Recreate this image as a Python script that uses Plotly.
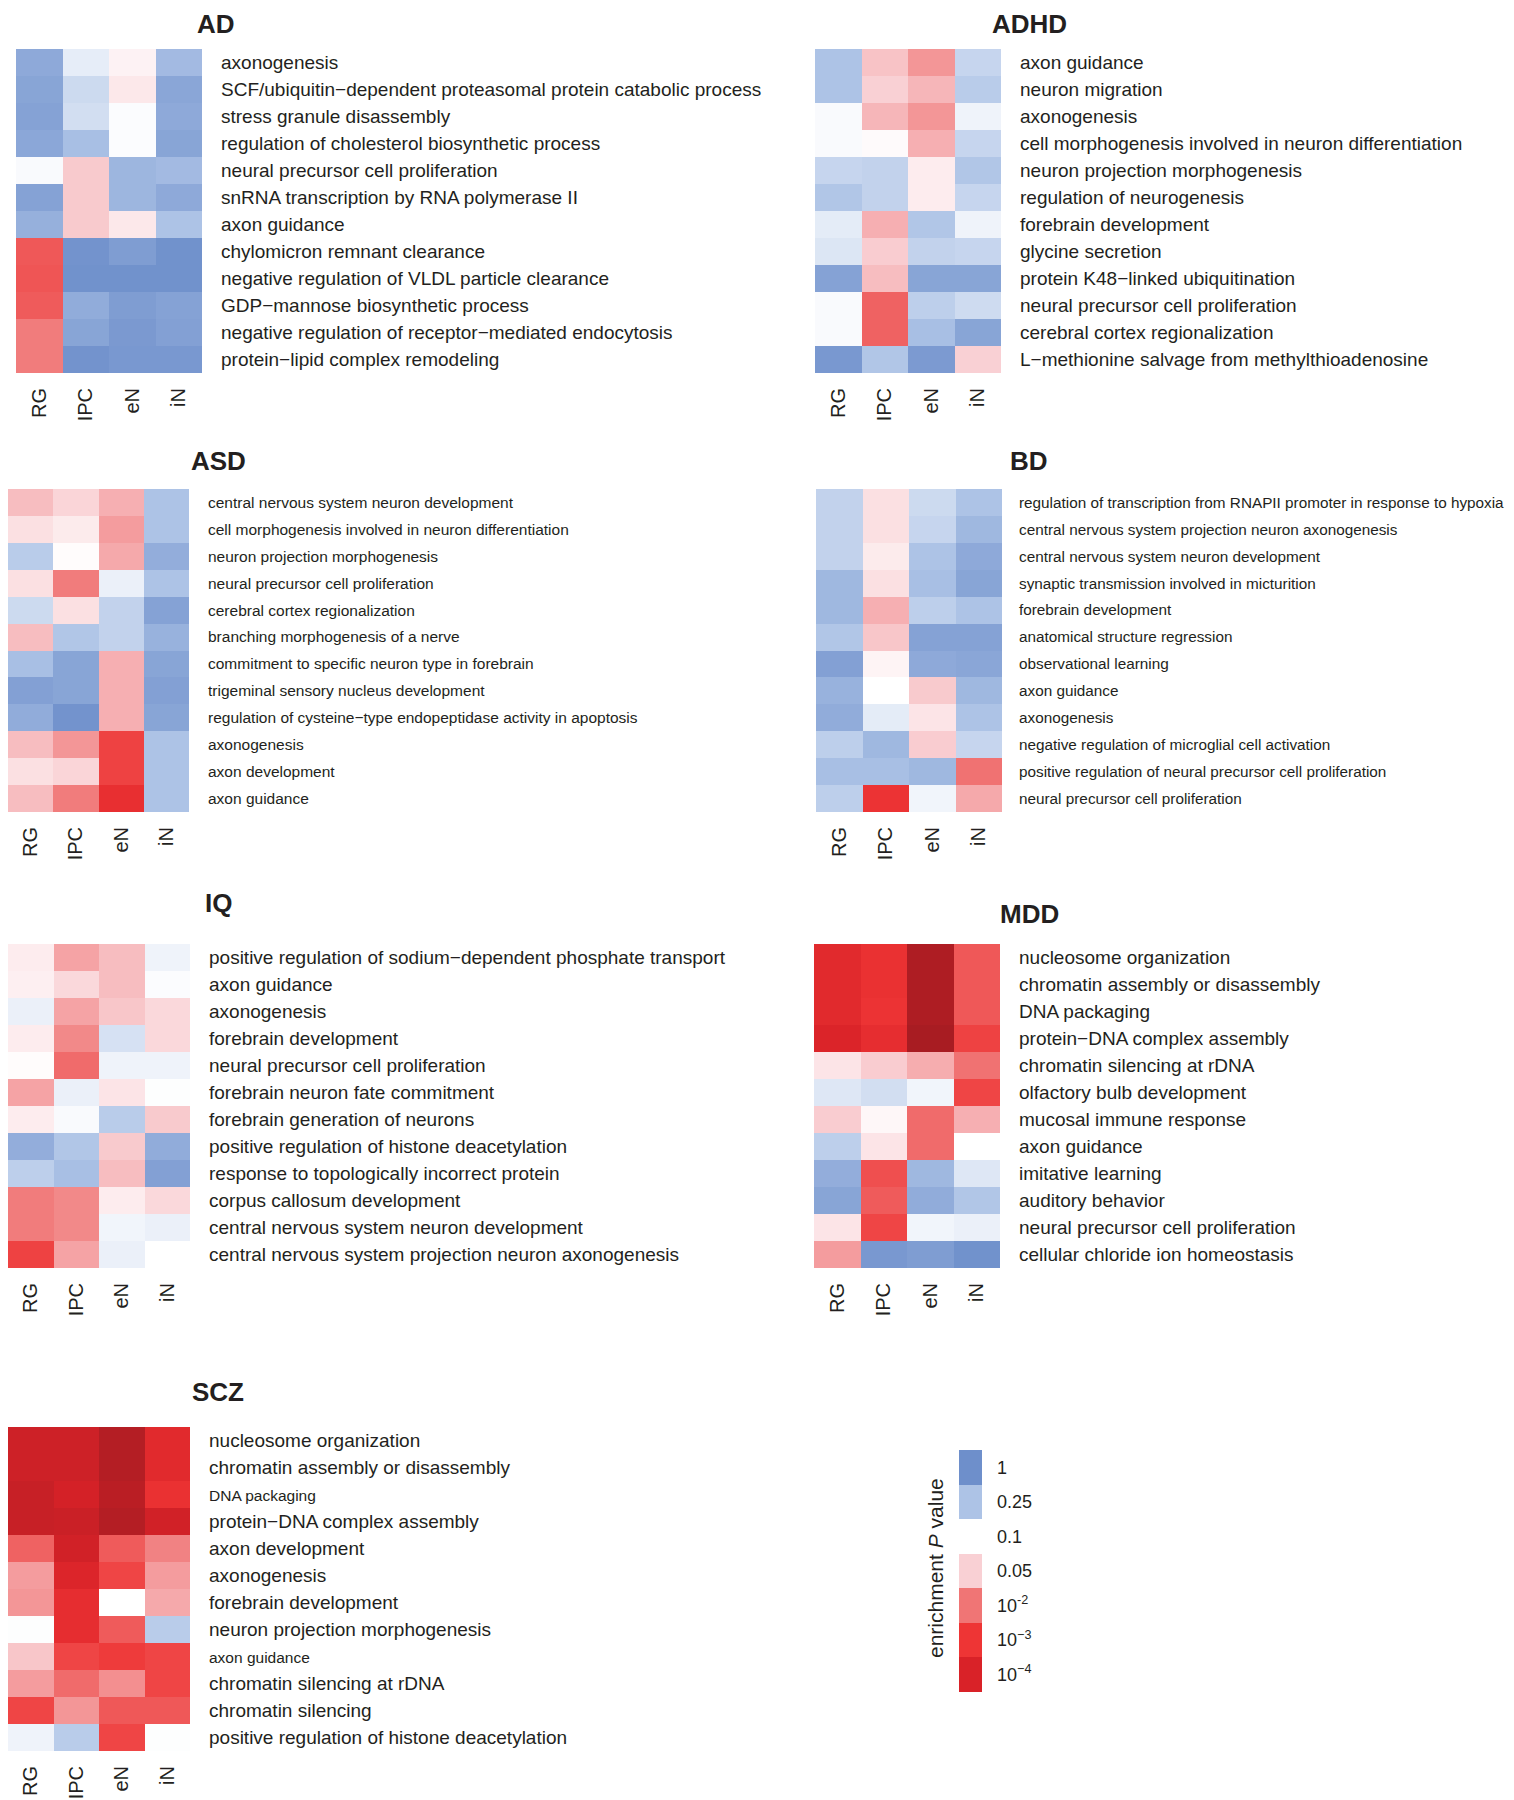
import plotly.graph_objects as go

W, H = 1514, 1800
OFF = 8  # page body margin of the browser
cell_types = ["RG", "IPC", "eN", "iN"]

# values are -log10(enrichment P value); rows top to bottom, columns RG, IPC, eN, iN
ad_terms = ["axonogenesis", "SCF/ubiquitin−dependent proteasomal protein catabolic process",
            "stress granule disassembly", "regulation of cholesterol biosynthetic process",
            "neural precursor cell proliferation", "snRNA transcription by RNA polymerase II",
            "axon guidance", "chylomicron remnant clearance",
            "negative regulation of VLDL particle clearance", "GDP−mannose biosynthetic process",
            "negative regulation of receptor−mediated endocytosis", "protein−lipid complex remodeling"]
ad_vals = [[0.30, 0.88, 1.08, 0.50], [0.25, 0.75, 1.15, 0.27], [0.22, 0.78, 0.98, 0.30],
           [0.28, 0.55, 0.98, 0.25], [0.97, 1.35, 0.45, 0.50], [0.22, 1.35, 0.45, 0.30],
           [0.38, 1.35, 1.15, 0.60], [2.45, 0.05, 0.16, 0.03], [2.50, 0.03, 0.03, 0.03],
           [2.40, 0.33, 0.16, 0.22], [1.95, 0.25, 0.12, 0.20], [1.95, 0.05, 0.10, 0.10]]

adhd_terms = ["axon guidance", "neuron migration", "axonogenesis",
              "cell morphogenesis involved in neuron differentiation", "neuron projection morphogenesis",
              "regulation of neurogenesis", "forebrain development", "glycine secretion",
              "protein K48−linked ubiquitination", "neural precursor cell proliferation",
              "cerebral cortex regionalization", "L−methionine salvage from methylthioadenosine"]
adhd_vals = [[0.60, 1.40, 1.75, 0.72], [0.60, 1.30, 1.50, 0.66], [0.97, 1.50, 1.75, 0.92],
             [0.97, 1.03, 1.55, 0.72], [0.72, 0.70, 1.12, 0.62], [0.62, 0.70, 1.12, 0.72],
             [0.87, 1.55, 0.62, 0.92], [0.83, 1.33, 0.70, 0.72], [0.22, 1.45, 0.25, 0.25],
             [0.97, 2.30, 0.68, 0.76], [0.97, 2.30, 0.55, 0.25], [0.10, 0.62, 0.13, 1.30]]

asd_terms = ["central nervous system neuron development", "cell morphogenesis involved in neuron differentiation",
             "neuron projection morphogenesis", "neural precursor cell proliferation",
             "cerebral cortex regionalization", "branching morphogenesis of a nerve",
             "commitment to specific neuron type in forebrain", "trigeminal sensory nucleus development",
             "regulation of cysteine−type endopeptidase activity in apoptosis", "axonogenesis",
             "axon development", "axon guidance"]
asd_vals = [[1.45, 1.27, 1.55, 0.60], [1.20, 1.13, 1.70, 0.60], [0.66, 1.02, 1.60, 0.35],
            [1.20, 1.95, 0.90, 0.60], [0.75, 1.20, 0.70, 0.22], [1.45, 0.62, 0.70, 0.40],
            [0.55, 0.25, 1.55, 0.25], [0.20, 0.25, 1.55, 0.20], [0.33, 0.05, 1.55, 0.25],
            [1.45, 1.75, 2.80, 0.60], [1.20, 1.27, 2.80, 0.60], [1.45, 1.95, 3.30, 0.60]]

bd_terms = ["regulation of transcription from RNAPII promoter in response to hypoxia",
            "central nervous system projection neuron axonogenesis", "central nervous system neuron development",
            "synaptic transmission involved in micturition", "forebrain development",
            "anatomical structure regression", "observational learning", "axon guidance", "axonogenesis",
            "negative regulation of microglial cell activation",
            "positive regulation of neural precursor cell proliferation", "neural precursor cell proliferation"]
bd_vals = [[0.70, 1.20, 0.75, 0.60], [0.70, 1.20, 0.72, 0.47], [0.70, 1.13, 0.60, 0.30],
           [0.47, 1.20, 0.55, 0.25], [0.47, 1.55, 0.68, 0.60], [0.62, 1.38, 0.22, 0.22],
           [0.20, 1.07, 0.30, 0.27], [0.40, 1.00, 1.35, 0.47], [0.33, 0.87, 1.17, 0.60],
           [0.68, 0.47, 1.33, 0.72], [0.55, 0.55, 0.47, 2.05], [0.68, 3.10, 0.93, 1.60]]

iq_terms = ["positive regulation of sodium−dependent phosphate transport", "axon guidance", "axonogenesis",
            "forebrain development", "neural precursor cell proliferation", "forebrain neuron fate commitment",
            "forebrain generation of neurons", "positive regulation of histone deacetylation",
            "response to topologically incorrect protein", "corpus callosum development",
            "central nervous system neuron development", "central nervous system projection neuron axonogenesis"]
iq_vals = [[1.12, 1.65, 1.45, 0.92], [1.10, 1.25, 1.45, 0.98], [0.90, 1.65, 1.38, 1.25],
           [1.12, 1.85, 0.80, 1.25], [1.02, 2.15, 0.92, 0.92], [1.65, 0.90, 1.17, 0.99],
           [1.12, 0.97, 0.66, 1.35], [0.35, 0.62, 1.35, 0.33], [0.68, 0.55, 1.45, 0.20],
           [1.95, 1.85, 1.12, 1.25], [1.95, 1.85, 0.93, 0.90], [2.80, 1.65, 0.90, 1.00]]

mdd_terms = ["nucleosome organization", "chromatin assembly or disassembly", "DNA packaging",
             "protein−DNA complex assembly", "chromatin silencing at rDNA", "olfactory bulb development",
             "mucosal immune response", "axon guidance", "imitative learning", "auditory behavior",
             "neural precursor cell proliferation", "cellular chloride ion homeostasis"]
mdd_vals = [[3.60, 3.20, 5.40, 2.45], [3.60, 3.20, 5.40, 2.45], [3.60, 3.10, 5.40, 2.45],
            [3.90, 3.40, 5.60, 2.80], [1.17, 1.33, 1.57, 2.05], [0.84, 0.78, 0.93, 2.75],
            [1.33, 1.05, 2.15, 1.55], [0.68, 1.17, 2.15, 1.00], [0.35, 2.60, 0.47, 0.84],
            [0.25, 2.40, 0.33, 0.62], [1.17, 2.75, 0.93, 0.90], [1.70, 0.10, 0.16, 0.03]]

scz_terms = ["nucleosome organization", "chromatin assembly or disassembly", "DNA packaging",
             "protein−DNA complex assembly", "axon development", "axonogenesis", "forebrain development",
             "neuron projection morphogenesis", "axon guidance", "chromatin silencing at rDNA",
             "chromatin silencing", "positive regulation of histone deacetylation"]
scz_vals = [[4.40, 4.40, 5.20, 3.60], [4.40, 4.40, 5.20, 3.60], [4.60, 4.15, 5.00, 3.20],
            [4.60, 4.50, 5.20, 4.25], [2.30, 4.25, 2.40, 1.90], [1.70, 3.85, 2.75, 1.70],
            [1.75, 3.40, 1.00, 1.60], [0.99, 3.40, 2.40, 0.66], [1.38, 2.75, 2.90, 2.75],
            [1.70, 2.15, 1.80, 2.75], [2.75, 1.75, 2.45, 2.45], [0.92, 0.66, 2.75, 0.99]]
scz_small_terms = ["DNA packaging", "axon guidance"]

legend_labels = ["1", "0.25", "0.1", "0.05", "10<sup>-2</sup>", "10<sup>−3</sup>", "10<sup>−4</sup>"]
legend_vals = [0.0, 0.6, 1.0, 1.3, 2.0, 3.0, 4.0]

# colour scale on -log10(P)
ZMAX = 6.0
stops = [(0.0, "#6e8fcb"), (0.6, "#adc3e6"), (1.0, "#ffffff"), (1.3, "#f9d0d4"),
         (2.0, "#f07575"), (3.0, "#ee3535"), (4.0, "#d92228"), (5.6, "#a81c22"), (6.0, "#a01a20")]
cscale = [[v / ZMAX, c] for v, c in stops]

TXT = "#231f20"
REG = "Liberation Sans, Arial, sans-serif"


def small(t):
    return f'<span style="font-size:15.5px">{t}</span>'


def fx(px):
    return min(1.0, max(0.0, (px - OFF) / W))


def fy(px):
    return min(1.0, max(0.0, 1 - (px - OFF) / H))


panels = [
    dict(name="AD", terms=ad_terms, vals=ad_vals, box=(16, 202, 49, 373), title=(216, 14), fsize=19, gap=18),
    dict(name="ADHD", terms=adhd_terms, vals=adhd_vals, box=(815, 1001, 49, 373), title=(1029, 14), fsize=19, gap=18),
    dict(name="ASD", terms=asd_terms, vals=asd_vals, box=(8, 189, 489, 812), title=(218, 461), fsize=15.5, gap=18),
    dict(name="BD", terms=bd_terms, vals=bd_vals, box=(816, 1002, 489, 812), title=(1029, 461), fsize=15.3, gap=16),
    dict(name="IQ", terms=iq_terms, vals=iq_vals, box=(8, 190, 944, 1268), title=(218, 903), fsize=19, gap=18),
    dict(name="MDD", terms=mdd_terms, vals=mdd_vals, box=(814, 1000, 944, 1268), title=(1029, 914), fsize=19, gap=18),
    dict(name="SCZ", terms=scz_terms, vals=scz_vals, box=(8, 190, 1427, 1751), title=(218, 1392), fsize=19, gap=18),
]

fig = go.Figure()
layout = {}
annotations = []

for i, p in enumerate(panels, start=1):
    sfx = "" if i == 1 else str(i)
    x0, x1, y0, y1 = p["box"]
    ticktext = [small(t) if (p["name"] == "SCZ" and t in scz_small_terms) else t for t in p["terms"]]
    fig.add_trace(go.Heatmap(
        z=p["vals"], x=list(range(len(cell_types))), y=list(range(len(p["terms"]))),
        colorscale=cscale, zmin=0, zmax=ZMAX, showscale=False,
        xaxis="x" + sfx, yaxis="y" + sfx, hoverinfo="skip"))
    layout["xaxis" + sfx] = dict(
        domain=[fx(x0), fx(x1)], anchor="y" + sfx, range=[-0.5, len(cell_types) - 0.5],
        tickmode="array", tickvals=list(range(len(cell_types))), ticktext=cell_types,
        tickangle=-90, showgrid=False, zeroline=False, showline=False, ticks="", automargin=False,
        ticklabelstandoff=10, tickfont=dict(family=REG, size=20, color=TXT), fixedrange=True)
    layout["yaxis" + sfx] = dict(
        domain=[fy(y1), fy(y0)], anchor="x" + sfx, range=[len(p["terms"]) - 0.5, -0.5],
        side="right", tickmode="array", tickvals=list(range(len(p["terms"]))), ticktext=ticktext,
        showgrid=False, zeroline=False, showline=False, ticks="", ticklabelstandoff=p["gap"],
        automargin=False, tickfont=dict(family=REG, size=p["fsize"], color=TXT), fixedrange=True)
    tx, ty = p["title"]
    if ty - OFF < 16:
        # title sits at the very top of the page: anchor to the top edge of the figure
        ann_pos = dict(y=1.0, yanchor="top", yshift=1)
    else:
        ann_pos = dict(y=fy(ty), yanchor="middle")
    annotations.append(dict(text=f"<b>{p['name']}</b>", x=fx(tx), xref="paper", yref="paper",
                            xanchor="center", showarrow=False,
                            font=dict(family=REG, size=26, color=TXT), **ann_pos))

# legend block
li = len(panels) + 1
fig.add_trace(go.Heatmap(
    z=[[v] for v in legend_vals], x=[0], y=list(range(len(legend_vals))),
    colorscale=cscale, zmin=0, zmax=ZMAX, showscale=False,
    xaxis=f"x{li}", yaxis=f"y{li}", hoverinfo="skip"))
layout[f"xaxis{li}"] = dict(domain=[fx(959), fx(982)], anchor=f"y{li}", range=[-0.5, 0.5],
                            showticklabels=False, showgrid=False, zeroline=False, showline=False,
                            ticks="", fixedrange=True, automargin=False)
layout[f"yaxis{li}"] = dict(domain=[fy(1692), fy(1450)], anchor=f"x{li}",
                            range=[len(legend_vals) - 0.5, -0.5], side="right", tickmode="array",
                            tickvals=list(range(len(legend_vals))), ticktext=legend_labels,
                            showgrid=False, zeroline=False, showline=False, ticks="", automargin=False,
                            ticklabelstandoff=14, tickfont=dict(family=REG, size=18, color=TXT),
                            fixedrange=True)
annotations.append(dict(text="enrichment <i>P</i> value", x=fx(935), y=fy(1568),
                        xref="paper", yref="paper", xanchor="center", yanchor="middle",
                        showarrow=False, textangle=-90, font=dict(family=REG, size=21, color=TXT)))

fig.update_layout(
    width=W, height=H, margin=dict(l=0, r=0, t=0, b=0, autoexpand=False),
    paper_bgcolor="white", plot_bgcolor="white",
    annotations=annotations, **layout)

fig.write_html("out.html")
